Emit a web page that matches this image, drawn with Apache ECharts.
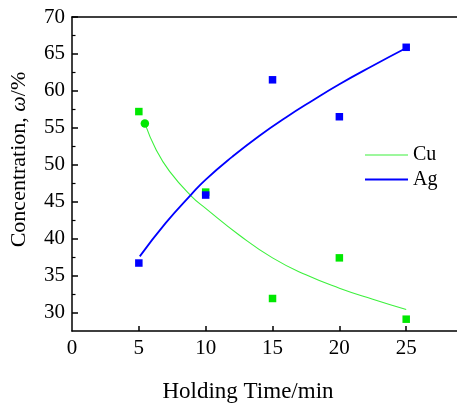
<!DOCTYPE html>
<html>
<head>
<meta charset="utf-8">
<script src="https://cdn.jsdelivr.net/npm/echarts@6/dist/echarts.min.js"></script>
<style>html,body{margin:0;padding:0;background:#fff;}#c{width:457px;height:405px;}</style>
</head>
<body>
<div id="c"></div>
<script>
// ---- data ----
const times = [5, 10, 15, 20, 25];
const cuValues = [57.2, 46.3, 31.9, 37.4, 29.1];
const agValues = [36.7, 45.9, 61.5, 56.5, 65.9];
const cuFitX = [5.45, 6.3, 7.3, 8.9, 10, 12.5, 15, 17.5, 20, 22.5, 25];
const cuFitY = [55.6, 52.0, 49.1, 45.8, 44.1, 40.5, 37.4, 35.1, 33.3, 31.8, 30.4];
const agFitX = [5.07, 7, 8.93, 10, 12, 14, 16, 18, 20, 22.5, 25];
const agFitY = [37.6, 42.1, 46.0, 48.0, 51.1, 53.9, 56.4, 58.7, 60.9, 63.4, 65.8];
const cuStartMarker = [[5.45, 55.6]];
const xTicks = [0, 5, 10, 15, 20, 25];
const yTicks = [30, 35, 40, 45, 50, 55, 60, 65, 70];
const yMinorTicks = [32.5, 37.5, 42.5, 47.5, 52.5, 57.5, 62.5, 67.5];
const xTitle = 'Holding Time/min';
const seriesNames = ['Cu', 'Ag'];

const pair = (xs, ys) => xs.map((x, i) => [x, ys[i]]);
const FONT = '"Liberation Serif", "DejaVu Serif", serif';
const GREEN = '#00e800';
const GREEN_LINE = '#3cf03c';
const BLUE = '#0000ff';

const chart = echarts.init(document.getElementById('c'), null, {renderer: 'canvas'});
const axisLine = {show: true, lineStyle: {color: '#000', width: 1.5}};
const legendBase = {
  orient: 'vertical', left: 360, icon: 'rect',
  itemWidth: 43, itemGap: 5,
  textStyle: {fontFamily: FONT, fontSize: 20, color: '#000'}
};
chart.setOption({
  animation: false,
  backgroundColor: '#fff',
  grid: {left: 72, top: 17, right: 0, bottom: 74, containLabel: false},
  legend: [
    Object.assign({}, legendBase, {data: [seriesNames[0]], top: 140, itemHeight: 1.2}),
    Object.assign({}, legendBase, {data: [seriesNames[1]], top: 164.5, itemHeight: 2})
  ],
  xAxis: [{
    type: 'value', min: 0, max: 28.8, position: 'bottom',
    axisLine: axisLine,
    splitLine: {show: false},
    axisTick: {show: true, inside: true, length: 5, lineStyle: {color: '#000', width: 1.5}, customValues: xTicks.slice(1)},
    axisLabel: {customValues: xTicks, margin: 7, fontFamily: FONT, fontSize: 21, color: '#000'}
  }, {
    type: 'value', min: 0, max: 28.8, position: 'top',
    axisLine: axisLine, splitLine: {show: false},
    axisTick: {show: false}, axisLabel: {show: false}
  }],
  yAxis: [{
    type: 'value', min: 27.5, max: 70, position: 'left',
    axisLine: axisLine, splitLine: {show: false},
    axisTick: {show: true, inside: true, length: 6, lineStyle: {color: '#000', width: 1.5}, customValues: yTicks},
    axisLabel: {customValues: yTicks, margin: 7, fontFamily: FONT, fontSize: 21, color: '#000'}
  }, {
    type: 'value', min: 27.5, max: 70, position: 'left',
    axisLine: {show: false}, splitLine: {show: false},
    axisTick: {show: true, inside: true, length: 3.5, lineStyle: {color: '#000', width: 1.2}, customValues: yMinorTicks},
    axisLabel: {show: false}
  }],
  graphic: [{
    type: 'text', x: 248, y: 391.5,
    style: {text: xTitle, font: '23px ' + FONT, fill: '#000', align: 'center', verticalAlign: 'middle'}
  }, {
    type: 'text', x: 19.5, y: 159.5, rotation: Math.PI / 2,
    style: {
      text: '{a|Concentration, }{b|ω}{a|/%}',
      align: 'center', verticalAlign: 'middle',
      rich: {
        a: {fontFamily: FONT, fontSize: 22, fill: '#000'},
        b: {fontFamily: FONT, fontSize: 22, fontStyle: 'italic', fill: '#000'}
      }
    }
  }],
  series: [{
    name: seriesNames[0], type: 'line', smooth: true, symbol: 'none',
    data: pair(cuFitX, cuFitY),
    itemStyle: {color: GREEN_LINE},
    lineStyle: {color: GREEN_LINE, width: 1.1}, z: 2
  }, {
    name: seriesNames[1], type: 'line', smooth: true, symbol: 'none',
    data: pair(agFitX, agFitY),
    itemStyle: {color: BLUE},
    lineStyle: {color: BLUE, width: 1.8}, z: 2
  }, {
    name: 'Cu points', type: 'scatter', symbol: 'rect', symbolSize: 7.5,
    data: pair(times, cuValues), itemStyle: {color: GREEN, opacity: 1}, z: 3
  }, {
    name: 'Ag points', type: 'scatter', symbol: 'rect', symbolSize: 7.5,
    data: pair(times, agValues), itemStyle: {color: BLUE, opacity: 1}, z: 4
  }, {
    name: 'Cu start', type: 'scatter', symbol: 'circle', symbolSize: 8.5,
    data: cuStartMarker, itemStyle: {color: GREEN, opacity: 1}, z: 3
  }]
});
</script>
</body>
</html>
